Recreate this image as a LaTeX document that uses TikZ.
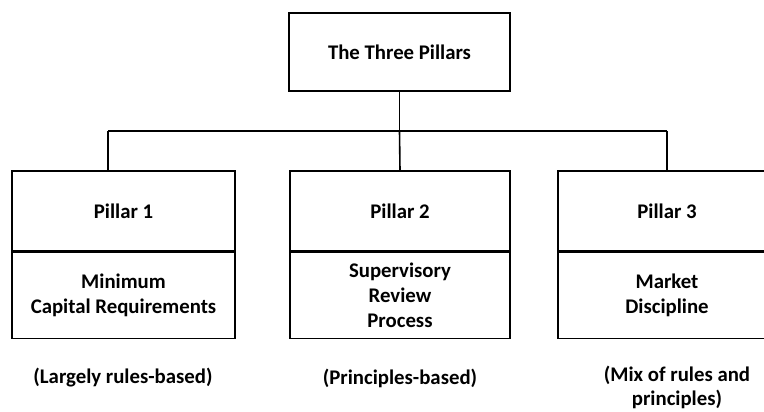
\documentclass[tikz,border=0pt]{standalone}
\usepackage{fontspec}
\setmainfont{Carlito}
\begin{document}
\begin{tikzpicture}[x=1pt,y=-1pt,
  box/.style={draw=black,line width=1.6pt,rectangle,inner sep=0pt,align=center,
    font=\fontsize{20.8}{25}\selectfont\bfseries},
  captext/.style={inner sep=0pt,align=center,font=\fontsize{20.8}{24.5}\selectfont\bfseries},
  conn/.style={draw=black,line width=1.6pt}]
\useasboundingbox (0,0) rectangle (764,412);
\clip (0,0) rectangle (764,412);
% top
\node[box,minimum width=221pt,minimum height=78pt] (top) at (399.5,52) {The Three Pillars};
% pillar boxes
\node[box,minimum width=223pt,minimum height=80pt] (p1h) at (123.5,211) {Pillar 1};
\node[box,minimum width=223pt,minimum height=86pt,anchor=north] (p1b) at (p1h.south) {Minimum\\Capital Requirements};
\node[box,minimum width=220pt,minimum height=80pt] (p2h) at (400,211) {Pillar 2};
\node[box,minimum width=220pt,minimum height=86pt,anchor=north] (p2b) at (p2h.south) {Supervisory\\Review\\Process};
\node[box,minimum width=218pt,minimum height=80pt] (p3h) at (667,211) {Pillar 3};
\node[box,minimum width=218pt,minimum height=86pt,anchor=north] (p3b) at (p3h.south) {Market\\Discipline};
% captions
\node[captext] (c1) at (123,378) {(Largely rules-based)};
\node[captext] (c2) at (400,378) {(Principles-based)};
\node[captext] (c3) at (677,387.5) {(Mix of rules and\\principles)};
% connectors
\coordinate (j) at (top.south |- 0,131);
\coordinate (jl) at (108,131);
\coordinate (jr) at (p3h.north |- 0,131);
\draw[conn] (top.south) -- (j);
\draw[conn] (j) -- (p2h.north);
\draw[conn] (jl) -- (jr);
\draw[conn] (jl) -- (jl |- p1h.north);
\draw[conn] (jr) -- (p3h.north);
\end{tikzpicture}
\end{document}
